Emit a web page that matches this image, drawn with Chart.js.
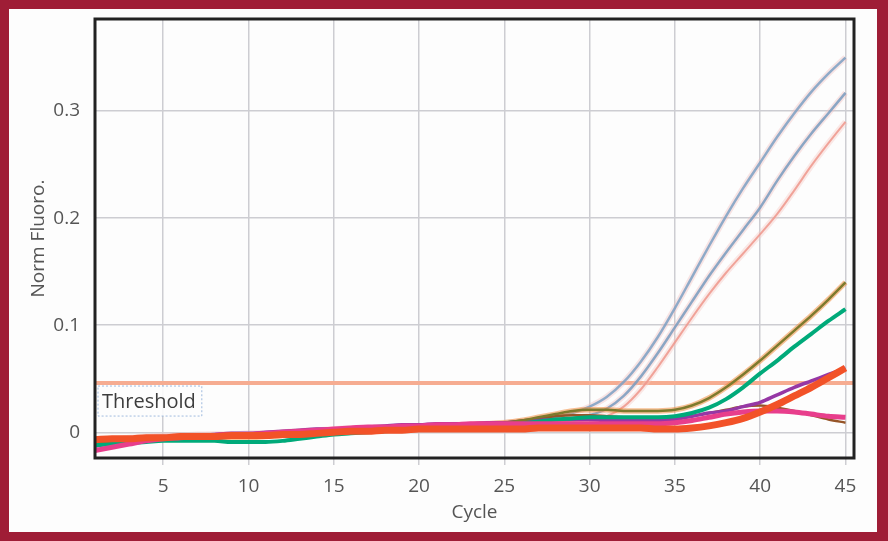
<!DOCTYPE html>
<html>
<head>
<meta charset="utf-8">
<script src="https://cdn.jsdelivr.net/npm/chart.js@4.4.1/dist/chart.umd.min.js"></script>
<style>
  html, body { margin: 0; padding: 0; }
  body { width: 888px; height: 541px; background: #9f1d36; position: relative; overflow: hidden; }
  .panel { position: absolute; left: 9px; top: 9px; width: 868px; height: 523px; background: #fdfdfd; }
  .panel canvas { display: block; }
</style>
</head>
<body>
<div class="panel"><canvas id="myChart" width="868" height="523"></canvas></div>
<script>
// data
const cycles = [1,2,3,4,5,6,7,8,9,10,11,12,13,14,15,16,17,18,19,20,21,22,23,24,25,26,27,28,29,30,31,32,33,34,35,36,37,38,39,40,41,42,43,44,45];
const xTicks = [5,10,15,20,25,30,35,40,45];
const yTicks = [0, 0.1, 0.2, 0.3];
const threshold = 0.046;

const blueHigh = [-0.009,-0.007,-0.005,-0.004,-0.003,-0.003,-0.002,-0.002,-0.002,-0.001,
  -0.001,0.000,0.001,0.002,0.003,0.004,0.004,0.005,0.005,0.006,
  0.006,0.007,0.007,0.008,0.009,0.010,0.012,0.014,0.018,0.024,
  0.033,0.047,0.066,0.089,0.116,0.145,0.174,0.202,0.228,0.252,
  0.276,0.298,0.318,0.335,0.350];
const blueMid = [-0.010,-0.008,-0.006,-0.005,-0.004,-0.003,-0.003,-0.002,-0.002,-0.002,
  -0.001,0.000,0.001,0.002,0.002,0.003,0.004,0.004,0.005,0.005,
  0.006,0.006,0.007,0.007,0.008,0.009,0.010,0.011,0.013,0.016,
  0.022,0.034,0.052,0.074,0.098,0.122,0.146,0.168,0.189,0.210,
  0.235,0.258,0.279,0.298,0.317];
const salmon = [-0.011,-0.009,-0.007,-0.005,-0.004,-0.004,-0.003,-0.003,-0.002,-0.002,
  -0.001,-0.001,0.000,0.001,0.002,0.003,0.003,0.004,0.005,0.005,
  0.006,0.006,0.006,0.007,0.007,0.008,0.009,0.010,0.011,0.012,
  0.015,0.024,0.040,0.061,0.084,0.107,0.129,0.149,0.167,0.185,
  0.204,0.226,0.249,0.270,0.290];
const olive = [-0.010,-0.009,-0.008,-0.007,-0.006,-0.006,-0.005,-0.005,-0.005,-0.005,
  -0.004,-0.003,-0.002,-0.001,0.000,0.001,0.002,0.003,0.004,0.005,
  0.006,0.006,0.007,0.008,0.009,0.011,0.014,0.017,0.020,0.021,
  0.021,0.020,0.020,0.020,0.021,0.025,0.032,0.042,0.054,0.067,
  0.081,0.095,0.109,0.124,0.140];
const green = [-0.012,-0.011,-0.010,-0.009,-0.008,-0.008,-0.008,-0.008,-0.009,-0.009,
  -0.009,-0.008,-0.006,-0.004,-0.002,-0.001,0.000,0.001,0.002,0.003,
  0.004,0.004,0.005,0.006,0.007,0.008,0.010,0.012,0.013,0.014,
  0.014,0.014,0.014,0.014,0.015,0.018,0.023,0.031,0.042,0.055,
  0.067,0.080,0.092,0.104,0.115];
const purple = [-0.013,-0.010,-0.008,-0.006,-0.005,-0.004,-0.003,-0.002,-0.001,-0.001,
  0.000,0.001,0.002,0.003,0.003,0.004,0.005,0.006,0.007,0.007,
  0.008,0.008,0.008,0.009,0.009,0.010,0.011,0.012,0.012,0.012,
  0.011,0.011,0.011,0.011,0.012,0.015,0.018,0.020,0.024,0.028,
  0.035,0.042,0.048,0.054,0.060];
const red = [-0.007,-0.006,-0.006,-0.005,-0.005,-0.004,-0.004,-0.004,-0.003,-0.003,
  -0.003,-0.002,-0.002,-0.001,0.000,0.001,0.001,0.002,0.002,0.003,
  0.003,0.003,0.003,0.003,0.003,0.003,0.004,0.004,0.004,0.004,
  0.004,0.004,0.004,0.003,0.003,0.004,0.006,0.009,0.013,0.019,
  0.026,0.034,0.042,0.051,0.060];
const pink = [-0.017,-0.014,-0.011,-0.008,-0.006,-0.005,-0.004,-0.003,-0.002,-0.002,
  -0.001,0.000,0.001,0.002,0.003,0.004,0.005,0.005,0.006,0.006,
  0.007,0.007,0.008,0.008,0.008,0.008,0.008,0.008,0.008,0.008,
  0.008,0.008,0.008,0.008,0.009,0.011,0.014,0.017,0.019,0.020,
  0.020,0.019,0.017,0.015,0.014];
const brown = [-0.008,-0.007,-0.006,-0.005,-0.004,-0.003,-0.003,-0.002,-0.002,-0.001,
  -0.001,0.000,0.001,0.002,0.003,0.004,0.004,0.005,0.005,0.006,
  0.006,0.007,0.007,0.008,0.009,0.011,0.013,0.015,0.016,0.016,
  0.015,0.014,0.013,0.013,0.013,0.015,0.018,0.021,0.024,0.025,
  0.023,0.020,0.016,0.012,0.009];

function pts(arr){
  return cycles.map((c, i) => ({x: c, y: arr[i]}))
}
function line(arr, color, width){
  return {data: pts(arr), borderColor: color, borderWidth: width, pointRadius: 0,
    cubicInterpolationMode: 'monotone', fill: false}
}

const X_MIN = 1, X_MAX = 45.5;

// datasets - first one is drawn on top
const datasets = [
  line(red, 'rgb(242,82,40)', 7),
  line(pink, 'rgb(232,62,140)', 5),
  line(green, 'rgb(0,170,122)', 4),
  line(olive, 'rgb(125,122,45)', 2.5),
  line(purple, 'rgb(150,55,165)', 3.5),
  line(brown, 'rgb(150,85,40)', 2.5),
  line(olive, 'rgba(240,140,60,0.55)', 5.5),
  line(salmon, 'rgba(238,150,140,0.85)', 2),
  line(salmon, 'rgba(245,200,195,0.4)', 6),
  line(blueMid, 'rgba(120,155,190,0.85)', 2.5),
  line(blueMid, 'rgba(240,190,190,0.4)', 6),
  line(blueHigh, 'rgba(125,160,195,0.85)', 2.5),
  line(blueHigh, 'rgba(240,190,190,0.4)', 6),
  {data: [{x: X_MIN, y: threshold}, {x: X_MAX, y: threshold}], borderColor: 'rgb(246,172,145)', borderWidth: 4, pointRadius: 0, fill: false}
];

const font = {family: '"Open Sans", sans-serif', size: 19};

// frame around the plot + threshold label
const frame = {
  id: 'frame',
  afterDatasetsDraw(chart){
    const {ctx, chartArea: a, scales} = chart;
    ctx.save();
    const ty = scales.y.getPixelForValue(threshold);
    const lx = a.left + 3;
    ctx.font = '20px "Open Sans", sans-serif';
    const w = ctx.measureText('Threshold').width;
    ctx.fillStyle = 'rgba(253,253,253,0.9)';
    ctx.fillRect(lx, ty + 3, w + 10, 30);
    ctx.setLineDash([2, 2]);
    ctx.strokeStyle = 'rgba(150,180,220,0.9)';
    ctx.lineWidth = 1;
    ctx.strokeRect(lx, ty + 3, w + 10, 30);
    ctx.setLineDash([]);
    ctx.fillStyle = '#3d3d3d';
    ctx.textBaseline = 'middle';
    ctx.fillText('Threshold', lx + 4, ty + 19);
    ctx.strokeStyle = '#222';
    ctx.lineWidth = 3;
    ctx.strokeRect(a.left, a.top, a.right - a.left, a.bottom - a.top);
    ctx.restore();
  }
};

const config = {
  type: 'line',
  data: {datasets},
  options: {
    responsive: false,
    animation: false,
    layout: {padding: {left: 0, right: 23, top: 10, bottom: 0}},
    plugins: {legend: {display: false}, tooltip: {enabled: false}},
    scales: {
      x: {
        type: 'linear', min: X_MIN, max: X_MAX,
        afterBuildTicks: s => { s.ticks = xTicks.map(v => ({value: v})) },
        afterFit: s => { s.height = 74; s.paddingLeft = 0; s.paddingRight = 0 },
        grid: {color: '#cdcdd2', lineWidth: 1.5, tickLength: 7},
        border: {display: false},
        ticks: {color: '#555', font, padding: 10},
        title: {display: true, text: 'Cycle', color: '#555', font, padding: {bottom: 8, top: 0}}
      },
      y: {
        min: -0.024, max: 0.386,
        afterBuildTicks: s => { s.ticks = yTicks.map(v => ({value: v})) },
        afterFit: s => { s.width = 86; s.paddingTop = 0; s.paddingBottom = 0 },
        grid: {color: '#cdcdd2', lineWidth: 1.5, drawTicks: false},
        border: {display: false},
        ticks: {color: '#555', font, padding: 15, callback: v => String(v)},
        title: {display: true, text: 'Norm Fluoro.', color: '#555', font, padding: {top: 18, bottom: 0}}
      }
    }
  },
  plugins: [frame]
};

const myChart = new Chart(document.getElementById('myChart'), config);
</script>
</body>
</html>
